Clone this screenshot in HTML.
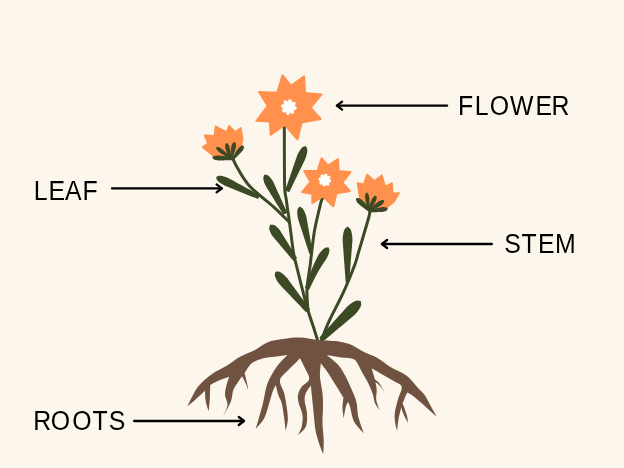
<!DOCTYPE html>
<html><head><meta charset="utf-8"><title>Parts of a plant</title>
<style>html,body{margin:0;padding:0;background:#FDF6EC}svg{display:block}</style></head>
<body>
<svg width="624" height="468" viewBox="0 0 624 468">
<rect width="624" height="468" fill="#FDF6EC"/>
<path d="M284.3 126.0C284.4 135.7 284.3 171.8 284.6 184.1C284.9 196.4 285.5 193.6 286.3 200.0C287.1 206.4 288.3 213.6 289.5 222.4C290.7 231.2 292.4 245.8 293.5 252.9C294.6 260.0 294.5 257.6 296.3 265.0C298.1 272.4 302.3 289.2 304.3 297.0C306.3 304.8 306.6 306.0 308.3 311.5C310.0 317.0 312.9 325.3 314.4 330.0C315.9 334.7 316.9 338.0 317.4 339.6" fill="none" stroke="#3B4A25" stroke-width="3.0" stroke-linecap="round" stroke-linejoin="round"/>
<path d="M232.9 158.9C233.7 160.4 234.7 163.4 237.5 168.0C240.3 172.6 243.9 179.9 250.0 186.5C256.1 193.1 267.5 201.3 274.1 207.3C280.7 213.3 286.9 219.9 289.5 222.4" fill="none" stroke="#3B4A25" stroke-width="3.0" stroke-linecap="round" stroke-linejoin="round"/>
<path d="M322.8 197.9C322.4 198.8 322.1 197.5 320.7 203.2C319.3 208.9 316.0 221.8 314.3 232.0C312.6 242.2 311.5 254.6 310.3 264.1C309.1 273.6 307.4 281.4 307.0 289.0C306.6 296.6 307.8 306.4 308.0 309.9" fill="none" stroke="#3B4A25" stroke-width="3.0" stroke-linecap="round" stroke-linejoin="round"/>
<path d="M369.8 210.8C369.6 212.0 370.5 211.0 368.6 218.0C366.7 225.0 360.7 244.9 358.4 252.7C356.1 260.5 357.2 258.4 354.7 265.0C352.2 271.6 347.8 282.8 343.5 292.2C339.2 301.6 332.8 313.2 329.1 321.1C325.5 329.0 322.9 336.5 321.6 339.6" fill="none" stroke="#3B4A25" stroke-width="3.0" stroke-linecap="round" stroke-linejoin="round"/>
<path d="M216.10 176.90L216.89 179.84L218.34 181.42L219.91 182.73L221.56 183.86L223.27 184.87L225.03 185.77L226.87 186.51L228.70 187.25L230.54 187.99L232.38 188.73L234.22 189.47L236.05 190.21L237.89 190.95L239.73 191.69L241.57 192.43L243.40 193.18L245.24 193.92L247.08 194.66L248.91 195.40L250.75 196.14L252.59 196.88L254.43 197.62L256.26 198.36L258.10 199.10L259.90 195.30L258.16 194.35L256.42 193.40L254.69 192.45L252.95 191.50L251.21 190.55L249.47 189.59L247.74 188.64L246.00 187.69L244.26 186.74L242.52 185.79L240.78 184.84L239.05 183.89L237.31 182.94L235.57 181.98L233.83 181.03L232.10 180.08L230.36 179.13L228.62 178.18L226.81 177.39L224.94 176.70L223.02 176.15L221.01 175.76L218.88 175.65L216.10 176.90Z" fill="#3B4A25"/>
<path d="M264.50 174.50L263.27 177.25L263.40 179.27L263.81 181.15L264.39 182.93L265.09 184.65L265.90 186.32L266.87 187.89L267.85 189.47L268.82 191.05L269.79 192.62L270.76 194.20L271.73 195.78L272.71 197.36L273.68 198.93L274.65 200.51L275.62 202.09L276.60 203.67L277.57 205.24L278.54 206.82L279.51 208.40L280.48 209.98L281.46 211.55L282.43 213.13L283.40 214.71L287.20 212.69L286.44 211.00L285.68 209.31L284.92 207.62L284.15 205.93L283.39 204.25L282.63 202.56L281.87 200.87L281.11 199.18L280.35 197.49L279.59 195.80L278.83 194.11L278.07 192.42L277.30 190.73L276.54 189.04L275.78 187.35L275.02 185.66L274.26 183.97L273.50 182.28L272.58 180.68L271.55 179.13L270.39 177.65L269.06 176.26L267.47 175.02L264.50 174.50Z" fill="#3B4A25"/>
<path d="M305.80 146.10L302.78 147.06L301.22 148.62L299.95 150.30L298.86 152.05L297.91 153.87L297.08 155.73L296.42 157.66L295.76 159.59L295.10 161.52L294.43 163.44L293.77 165.37L293.11 167.30L292.45 169.23L291.79 171.16L291.12 173.09L290.46 175.02L289.80 176.95L289.14 178.88L288.48 180.81L287.81 182.74L287.15 184.67L286.49 186.60L285.83 188.53L285.17 190.46L289.23 192.14L290.12 190.30L291.01 188.46L291.90 186.63L292.79 184.79L293.67 182.95L294.56 181.12L295.45 179.28L296.34 177.44L297.23 175.61L298.11 173.77L299.00 171.93L299.89 170.10L300.78 168.26L301.67 166.42L302.55 164.58L303.44 162.75L304.33 160.91L305.22 159.07L305.94 157.17L306.54 155.21L307.00 153.20L307.28 151.11L307.27 148.91L305.80 146.10Z" fill="#3B4A25"/>
<path d="M270.20 224.80L269.13 227.76L269.43 229.73L270.01 231.49L270.76 233.14L271.63 234.70L272.61 236.18L273.76 237.54L274.90 238.90L276.04 240.26L277.19 241.62L278.33 242.98L279.47 244.34L280.62 245.70L281.76 247.06L282.90 248.43L284.05 249.79L285.19 251.15L286.33 252.51L287.48 253.87L288.62 255.23L289.76 256.59L290.91 257.95L292.05 259.31L293.19 260.68L297.01 257.92L296.07 256.41L295.14 254.90L294.21 253.38L293.28 251.87L292.35 250.36L291.42 248.84L290.48 247.33L289.55 245.81L288.62 244.30L287.69 242.79L286.76 241.27L285.83 239.76L284.89 238.24L283.96 236.73L283.03 235.22L282.10 233.70L281.17 232.19L280.24 230.67L279.15 229.28L277.94 227.96L276.61 226.73L275.12 225.62L273.34 224.72L270.20 224.80Z" fill="#3B4A25"/>
<path d="M299.40 206.50L297.58 209.04L297.26 211.20L297.25 213.30L297.42 215.34L297.72 217.35L298.15 219.33L298.78 221.27L299.40 223.20L300.03 225.13L300.66 227.06L301.28 229.00L301.91 230.93L302.54 232.86L303.16 234.79L303.79 236.72L304.42 238.66L305.04 240.59L305.67 242.52L306.30 244.45L306.92 246.39L307.55 248.32L308.18 250.25L308.80 252.18L309.43 254.11L312.77 253.29L312.42 251.29L312.07 249.28L311.72 247.28L311.38 245.28L311.03 243.28L310.68 241.28L310.33 239.28L309.98 237.28L309.63 235.28L309.29 233.27L308.94 231.27L308.59 229.27L308.24 227.27L307.89 225.27L307.54 223.27L307.20 221.27L306.85 219.27L306.50 217.27L305.95 215.31L305.28 213.39L304.48 211.50L303.49 209.66L302.19 207.89L299.40 206.50Z" fill="#3B4A25"/>
<path d="M328.40 247.30L325.18 247.84L323.38 249.11L321.86 250.53L320.52 252.03L319.32 253.62L318.25 255.26L317.36 257.00L316.49 258.75L315.63 260.50L314.80 262.27L313.98 264.05L313.19 265.83L312.41 267.63L311.66 269.44L310.93 271.26L310.22 273.09L309.53 274.93L308.86 276.78L308.20 278.64L307.55 280.50L306.91 282.37L306.28 284.24L305.66 286.12L305.04 288.00L308.96 290.00L309.79 288.24L310.63 286.47L311.48 284.71L312.33 282.96L313.20 281.21L314.08 279.46L314.97 277.72L315.88 275.99L316.81 274.28L317.75 272.57L318.72 270.87L319.71 269.18L320.72 267.51L321.75 265.84L322.81 264.19L323.88 262.54L324.97 260.91L326.08 259.28L327.04 257.58L327.90 255.82L328.64 254.01L329.21 252.11L329.51 250.06L328.40 247.30Z" fill="#3B4A25"/>
<path d="M275.40 271.70L274.68 275.06L275.31 277.29L276.22 279.30L277.29 281.16L278.48 282.92L279.79 284.59L281.25 286.13L282.72 287.67L284.18 289.21L285.64 290.74L287.10 292.28L288.57 293.82L290.03 295.36L291.49 296.89L292.96 298.43L294.42 299.97L295.88 301.51L297.34 303.05L298.81 304.58L300.27 306.12L301.73 307.66L303.19 309.20L304.66 310.73L306.12 312.27L309.88 309.13L308.63 307.42L307.37 305.70L306.12 303.99L304.86 302.28L303.61 300.57L302.36 298.85L301.10 297.14L299.85 295.43L298.59 293.72L297.34 292.01L296.09 290.29L294.83 288.58L293.58 286.87L292.33 285.16L291.07 283.44L289.82 281.73L288.56 280.02L287.31 278.31L285.90 276.73L284.38 275.24L282.73 273.85L280.92 272.61L278.84 271.59L275.40 271.70Z" fill="#3B4A25"/>
<path d="M347.60 226.40L344.88 228.73L343.93 231.06L343.33 233.40L342.95 235.73L342.73 238.07L342.65 240.41L342.82 242.75L342.99 245.08L343.16 247.42L343.32 249.76L343.49 252.10L343.66 254.44L343.83 256.77L344.00 259.11L344.17 261.45L344.34 263.79L344.50 266.13L344.67 268.47L344.84 270.80L345.01 273.14L345.18 275.48L345.35 277.82L345.52 280.16L345.69 282.49L349.11 282.51L349.30 280.17L349.49 277.83L349.67 275.50L349.86 273.16L350.04 270.82L350.23 268.48L350.41 266.15L350.60 263.81L350.78 261.47L350.97 259.14L351.15 256.80L351.34 254.46L351.52 252.13L351.71 249.79L351.89 247.45L352.08 245.12L352.26 242.78L352.45 240.44L352.39 238.10L352.19 235.77L351.82 233.43L351.24 231.09L350.30 228.75L347.60 226.40Z" fill="#3B4A25"/>
<path d="M360.80 301.10L357.03 300.52L354.64 301.37L352.53 302.50L350.59 303.80L348.77 305.23L347.07 306.78L345.52 308.50L343.98 310.21L342.44 311.92L340.89 313.64L339.35 315.35L337.81 317.06L336.26 318.78L334.72 320.49L333.17 322.20L331.63 323.92L330.09 325.63L328.54 327.35L327.00 329.06L325.46 330.77L323.91 332.49L322.37 334.20L320.83 335.91L319.28 337.63L323.12 341.57L324.87 340.08L326.63 338.58L328.39 337.09L330.14 335.59L331.90 334.10L333.66 332.60L335.41 331.11L337.17 329.61L338.93 328.12L340.68 326.63L342.44 325.13L344.19 323.64L345.95 322.14L347.71 320.65L349.46 319.15L351.22 317.66L352.98 316.16L354.73 314.67L356.33 313.01L357.81 311.23L359.17 309.33L360.36 307.25L361.27 304.88L360.80 301.10Z" fill="#3B4A25"/>
<path d="M282.5 75.2L291.0 85.9L304.1 76.4L305.0 93.0L321.5 94.4L310.7 107.7L320.8 119.1L301.6 122.4L297.4 139.4L284.7 124.9L270.8 134.7L269.7 121.4L256.4 120.8L267.7 106.0L259.1 91.9L277.2 92.7Z" fill="#FF914D" stroke="#FF914D" stroke-width="2" stroke-linejoin="round"/>
<path d="M296.38 107.10L296.62 107.61L296.71 108.13L296.64 108.64L296.43 109.12L296.08 109.54L295.58 109.87L294.92 110.07L294.02 110.06L293.48 110.16L294.05 111.05L294.22 111.76L294.19 112.39L294.00 112.92L293.69 113.35L293.29 113.66L292.80 113.85L292.25 113.90L291.67 113.78L291.06 113.45L290.43 112.82L289.97 112.50L289.75 113.53L289.36 114.16L288.90 114.58L288.39 114.82L287.87 114.91L287.36 114.84L286.88 114.63L286.46 114.28L286.13 113.78L285.93 113.12L285.94 112.22L285.84 111.68L284.95 112.25L284.24 112.42L283.61 112.39L283.08 112.20L282.65 111.89L282.34 111.49L282.15 111.00L282.10 110.45L282.22 109.87L282.55 109.26L283.18 108.63L283.50 108.17L282.47 107.95L281.84 107.56L281.42 107.10L281.18 106.59L281.09 106.07L281.16 105.56L281.37 105.08L281.72 104.66L282.22 104.33L282.88 104.13L283.78 104.14L284.32 104.04L283.75 103.15L283.58 102.44L283.61 101.81L283.80 101.28L284.11 100.85L284.51 100.54L285.00 100.35L285.55 100.30L286.13 100.42L286.74 100.75L287.37 101.38L287.83 101.70L288.05 100.67L288.44 100.04L288.90 99.62L289.41 99.38L289.93 99.29L290.44 99.36L290.92 99.57L291.34 99.92L291.67 100.42L291.87 101.08L291.86 101.98L291.96 102.52L292.85 101.95L293.56 101.78L294.19 101.81L294.72 102.00L295.15 102.31L295.46 102.71L295.65 103.20L295.70 103.75L295.58 104.33L295.25 104.94L294.62 105.57L294.30 106.03L295.33 106.25L295.96 106.64Z" fill="#fff"/>
<path d="M321.5 158.2L328.0 165.4L338.0 159.1L338.8 171.0L350.6 172.1L342.4 182.5L350.0 191.1L336.4 193.5L333.4 206.5L322.7 196.4L312.2 203.3L312.2 193.8L301.9 192.1L310.4 181.7L304.1 171.0L317.4 170.8Z" fill="#FF914D" stroke="#FF914D" stroke-width="1.8" stroke-linejoin="round"/>
<path d="M331.08 180.10L331.26 180.52L331.32 180.95L331.27 181.37L331.10 181.76L330.82 182.11L330.43 182.39L329.91 182.57L329.22 182.59L328.78 182.69L329.20 183.40L329.31 183.97L329.27 184.47L329.10 184.89L328.84 185.24L328.51 185.50L328.11 185.66L327.67 185.71L327.19 185.63L326.70 185.39L326.19 184.91L325.81 184.68L325.61 185.47L325.28 185.96L324.90 186.28L324.48 186.46L324.05 186.52L323.63 186.47L323.24 186.30L322.89 186.02L322.61 185.63L322.43 185.11L322.41 184.42L322.31 183.98L321.60 184.40L321.03 184.51L320.53 184.47L320.11 184.30L319.76 184.04L319.50 183.71L319.34 183.31L319.29 182.87L319.37 182.39L319.61 181.90L320.09 181.39L320.32 181.01L319.53 180.81L319.04 180.48L318.72 180.10L318.54 179.68L318.48 179.25L318.53 178.83L318.70 178.44L318.98 178.09L319.37 177.81L319.89 177.63L320.58 177.61L321.02 177.51L320.60 176.80L320.49 176.23L320.53 175.73L320.70 175.31L320.96 174.96L321.29 174.70L321.69 174.54L322.13 174.49L322.61 174.57L323.10 174.81L323.61 175.29L323.99 175.52L324.19 174.73L324.52 174.24L324.90 173.92L325.32 173.74L325.75 173.68L326.17 173.73L326.56 173.90L326.91 174.18L327.19 174.57L327.37 175.09L327.39 175.78L327.49 176.22L328.20 175.80L328.77 175.69L329.27 175.73L329.69 175.90L330.04 176.16L330.30 176.49L330.46 176.89L330.51 177.33L330.43 177.81L330.19 178.30L329.71 178.81L329.48 179.19L330.27 179.39L330.76 179.72Z" fill="#fff"/>
<path d="M202.5 147.1L207.8 143.2L204.5 135.3L214.1 135.8L215.5 126.2L226.6 131.8L229.1 125.6L235.1 131.8L240.8 127.8L242.7 138.7L241.3 146.6L229.9 156.8L213.0 155.6Z" fill="#FF914D" stroke="#FF914D" stroke-width="1.4" stroke-linejoin="round"/>
<path d="M357.4 183.0L363.7 184.1L367.1 174.2L374.5 180.7L381.9 175.1L385.2 186.3L392.1 183.0L392.9 193.2L399.4 192.9L393.7 202.3L385.8 208.4L368.8 207.9L359.8 198.8Z" fill="#FF914D" stroke="#FF914D" stroke-width="1.4" stroke-linejoin="round"/>
<path d="M212.20 157.60L212.96 158.83L213.76 159.31L214.57 159.65L215.38 159.91L216.20 160.11L217.02 160.27L217.84 160.38L218.66 160.46L219.49 160.47L220.32 160.45L221.15 160.43L221.97 160.42L222.80 160.40L223.63 160.38L224.46 160.36L225.29 160.34L226.12 160.32L226.95 160.31L227.77 160.29L228.60 160.27L229.43 160.25L230.26 160.23L231.09 160.22L231.92 160.20L232.08 157.20L231.26 157.09L230.44 156.98L229.62 156.87L228.80 156.76L227.98 156.65L227.15 156.54L226.33 156.43L225.51 156.32L224.69 156.21L223.87 156.10L223.05 155.99L222.23 155.88L221.40 155.77L220.58 155.66L219.76 155.55L218.94 155.47L218.11 155.46L217.28 155.48L216.45 155.55L215.62 155.66L214.78 155.83L213.94 156.07L213.09 156.46L212.20 157.60Z" fill="#3B4A25"/>
<path d="M216.20 147.30L216.19 148.53L216.55 149.26L216.98 149.90L217.46 150.48L217.96 151.02L218.49 151.53L219.04 152.02L219.61 152.48L220.21 152.89L220.83 153.29L221.44 153.68L222.06 154.07L222.67 154.47L223.29 154.86L223.90 155.26L224.52 155.65L225.13 156.05L225.75 156.44L226.37 156.84L226.98 157.23L227.60 157.62L228.21 158.02L228.83 158.41L229.44 158.81L230.96 156.79L230.40 156.31L229.85 155.83L229.30 155.35L228.75 154.87L228.20 154.39L227.65 153.91L227.10 153.43L226.55 152.95L226.00 152.47L225.45 151.99L224.89 151.51L224.34 151.03L223.79 150.54L223.24 150.06L222.69 149.58L222.13 149.12L221.53 148.71L220.91 148.32L220.27 147.95L219.61 147.62L218.92 147.33L218.18 147.09L217.38 146.94L216.20 147.30Z" fill="#3B4A25"/>
<path d="M226.30 143.10L225.45 143.96L225.23 144.66L225.13 145.33L225.10 145.98L225.12 146.62L225.18 147.25L225.28 147.87L225.40 148.48L225.59 149.07L225.80 149.66L226.01 150.25L226.22 150.84L226.42 151.43L226.63 152.02L226.84 152.61L227.05 153.20L227.26 153.79L227.47 154.39L227.68 154.98L227.89 155.57L228.09 156.16L228.30 156.75L228.51 157.34L228.72 157.93L231.28 157.27L231.18 156.66L231.08 156.04L230.98 155.42L230.88 154.80L230.78 154.18L230.68 153.56L230.58 152.95L230.48 152.33L230.38 151.71L230.28 151.09L230.18 150.47L230.08 149.86L229.99 149.24L229.89 148.62L229.79 148.00L229.66 147.39L229.48 146.79L229.27 146.20L229.02 145.62L228.73 145.05L228.40 144.50L227.99 143.96L227.46 143.45L226.30 143.10Z" fill="#3B4A25"/>
<path d="M234.60 142.00L233.40 142.43L232.87 143.00L232.47 143.60L232.15 144.21L231.87 144.83L231.64 145.46L231.45 146.09L231.28 146.74L231.18 147.39L231.11 148.06L231.03 148.72L230.95 149.38L230.88 150.04L230.80 150.70L230.73 151.37L230.65 152.03L230.58 152.69L230.50 153.35L230.43 154.01L230.35 154.68L230.27 155.34L230.20 156.00L230.12 156.66L230.05 157.32L232.75 157.88L232.94 157.24L233.13 156.60L233.33 155.96L233.52 155.32L233.71 154.69L233.90 154.05L234.09 153.41L234.28 152.77L234.47 152.13L234.66 151.50L234.85 150.86L235.05 150.22L235.24 149.58L235.43 148.94L235.62 148.31L235.78 147.66L235.89 147.01L235.96 146.34L235.99 145.67L235.99 144.99L235.93 144.30L235.79 143.60L235.53 142.87L234.60 142.00Z" fill="#3B4A25"/>
<path d="M243.60 145.70L242.28 145.52L241.52 145.79L240.85 146.15L240.25 146.55L239.70 146.99L239.17 147.46L238.68 147.96L238.21 148.48L237.80 149.04L237.41 149.61L237.01 150.19L236.62 150.77L236.22 151.34L235.83 151.92L235.43 152.50L235.04 153.07L234.65 153.65L234.25 154.23L233.86 154.80L233.46 155.38L233.07 155.96L232.68 156.53L232.28 157.11L231.89 157.69L234.11 159.51L234.60 159.02L235.09 158.52L235.58 158.02L236.07 157.52L236.56 157.02L237.05 156.52L237.54 156.03L238.03 155.53L238.52 155.03L239.00 154.53L239.49 154.03L239.98 153.53L240.47 153.03L240.96 152.54L241.45 152.04L241.92 151.52L242.34 150.96L242.73 150.39L243.09 149.78L243.41 149.15L243.70 148.48L243.92 147.76L244.04 146.96L243.60 145.70Z" fill="#3B4A25"/>
<path d="M356.20 198.30L355.93 199.74L356.18 200.60L356.54 201.34L356.95 202.02L357.41 202.66L357.90 203.26L358.41 203.83L358.96 204.36L359.55 204.85L360.16 205.31L360.77 205.77L361.39 206.23L362.00 206.70L362.61 207.16L363.22 207.62L363.84 208.08L364.45 208.54L365.06 209.01L365.67 209.47L366.28 209.93L366.90 210.39L367.51 210.86L368.12 211.32L368.73 211.78L370.87 209.42L370.35 208.86L369.82 208.29L369.30 207.73L368.78 207.17L368.26 206.61L367.74 206.04L367.22 205.48L366.70 204.92L366.18 204.35L365.66 203.79L365.13 203.23L364.61 202.67L364.09 202.10L363.57 201.54L363.05 200.98L362.51 200.44L361.92 199.95L361.30 199.49L360.66 199.07L359.98 198.68L359.26 198.33L358.48 198.05L357.61 197.88L356.20 198.30Z" fill="#3B4A25"/>
<path d="M366.60 192.40L365.70 193.23L365.42 193.99L365.25 194.74L365.16 195.47L365.11 196.21L365.10 196.93L365.13 197.66L365.18 198.38L365.30 199.09L365.43 199.80L365.57 200.51L365.71 201.22L365.84 201.93L365.98 202.64L366.12 203.35L366.25 204.06L366.39 204.77L366.53 205.48L366.66 206.19L366.80 206.90L366.94 207.61L367.07 208.32L367.21 209.04L367.35 209.75L369.85 209.45L369.82 208.73L369.79 208.01L369.76 207.29L369.73 206.56L369.70 205.84L369.67 205.12L369.64 204.39L369.61 203.67L369.58 202.95L369.55 202.23L369.52 201.50L369.49 200.78L369.46 200.06L369.43 199.33L369.40 198.61L369.35 197.89L369.24 197.18L369.10 196.47L368.92 195.76L368.71 195.06L368.45 194.36L368.12 193.68L367.67 193.00L366.60 192.40Z" fill="#3B4A25"/>
<path d="M376.00 195.70L374.78 195.83L374.16 196.24L373.64 196.71L373.20 197.20L372.79 197.72L372.43 198.26L372.09 198.81L371.79 199.38L371.54 199.97L371.31 200.58L371.08 201.18L370.85 201.78L370.62 202.39L370.39 202.99L370.17 203.59L369.94 204.20L369.71 204.80L369.48 205.40L369.25 206.01L369.02 206.61L368.80 207.22L368.57 207.82L368.34 208.42L368.11 209.03L370.49 210.17L370.82 209.62L371.15 209.06L371.48 208.51L371.81 207.95L372.14 207.40L372.47 206.85L372.80 206.29L373.13 205.74L373.46 205.18L373.79 204.63L374.12 204.07L374.45 203.52L374.78 202.96L375.11 202.41L375.44 201.85L375.75 201.29L376.00 200.70L376.22 200.09L376.42 199.47L376.57 198.83L376.68 198.17L376.73 197.48L376.66 196.73L376.00 195.70Z" fill="#3B4A25"/>
<path d="M384.10 200.50L382.89 200.00L382.07 200.08L381.32 200.25L380.62 200.50L379.94 200.78L379.29 201.10L378.66 201.45L378.04 201.83L377.47 202.26L376.90 202.72L376.34 203.17L375.78 203.62L375.22 204.08L374.65 204.53L374.09 204.98L373.53 205.43L372.96 205.89L372.40 206.34L371.84 206.79L371.28 207.25L370.71 207.70L370.15 208.15L369.59 208.60L369.03 209.06L370.57 211.34L371.20 210.99L371.83 210.63L372.46 210.28L373.09 209.92L373.72 209.57L374.35 209.21L374.98 208.85L375.61 208.50L376.24 208.14L376.86 207.79L377.49 207.43L378.12 207.08L378.75 206.72L379.38 206.37L380.01 206.01L380.62 205.63L381.20 205.21L381.76 204.75L382.30 204.26L382.82 203.74L383.30 203.17L383.74 202.54L384.12 201.80L384.10 200.50Z" fill="#3B4A25"/>
<path d="M387.90 208.80L387.02 207.76L386.22 207.44L385.44 207.25L384.67 207.14L383.90 207.08L383.14 207.07L382.39 207.09L381.64 207.15L380.90 207.28L380.16 207.43L379.42 207.59L378.68 207.74L377.95 207.89L377.21 208.04L376.47 208.20L375.73 208.35L374.99 208.50L374.25 208.65L373.52 208.81L372.78 208.96L372.04 209.11L371.30 209.27L370.56 209.42L369.82 209.57L370.18 212.43L370.93 212.40L371.68 212.37L372.44 212.34L373.19 212.31L373.94 212.28L374.70 212.25L375.45 212.22L376.20 212.18L376.96 212.15L377.71 212.12L378.46 212.09L379.22 212.06L379.97 212.03L380.72 212.00L381.48 211.97L382.23 211.91L382.97 211.79L383.71 211.63L384.44 211.44L385.17 211.20L385.89 210.90L386.60 210.53L387.29 210.02L387.90 208.80Z" fill="#3B4A25"/>
<path d="M187.3 406.4C188.6 405.3 192.1 402.6 195.0 400.0C197.9 397.4 203.3 392.3 205.0 390.8C205.1 392.6 205.2 398.3 205.8 401.7C206.4 405.1 208.2 409.6 208.7 411.2C208.9 409.1 209.6 402.7 209.8 398.3C210.1 393.9 210.1 387.2 210.2 385.0C211.5 384.3 215.1 382.2 218.3 380.8C221.5 379.4 227.4 377.4 229.2 376.7C228.8 378.1 227.2 381.9 226.5 385.0C225.8 388.1 224.8 391.7 225.0 395.0C225.2 398.3 227.8 401.4 227.5 405.0C227.2 408.6 223.8 414.8 223.0 416.7C224.3 414.2 229.1 406.1 230.8 401.7C232.5 397.2 232.1 393.3 233.3 390.0C234.6 386.7 236.9 384.0 238.3 381.7C239.8 379.4 241.4 377.2 242.0 376.3C242.6 377.4 244.4 380.6 245.5 383.0C246.6 385.4 247.8 389.2 248.3 390.5C248.1 389.2 247.6 385.9 247.0 383.0C246.4 380.1 245.0 374.9 244.6 373.3C245.8 371.6 248.6 365.8 251.7 363.3C254.8 360.8 259.4 359.4 263.3 358.3C267.2 357.2 271.0 357.2 275.0 356.7C279.0 356.1 285.4 355.3 287.5 355.0C285.7 356.9 280.0 362.0 276.7 366.7C273.4 371.4 269.7 377.5 267.5 383.3C265.3 389.1 264.8 395.6 263.3 401.7C261.8 407.8 259.6 415.4 258.3 420.0C257.0 424.6 256.0 427.7 255.5 429.2C256.9 427.4 261.9 422.6 264.2 418.3C266.5 414.0 267.8 407.7 269.2 403.3C270.6 398.9 271.4 395.1 272.5 392.0C273.6 388.9 275.2 386.2 275.8 385.0C276.2 386.7 277.3 391.9 278.3 395.0C279.3 398.1 280.7 399.4 281.7 403.3C282.7 407.2 283.5 413.7 284.2 418.3C284.9 422.9 285.4 428.7 285.6 430.8C286.0 429.0 287.6 424.0 287.8 420.0C288.0 416.0 287.3 411.1 286.7 406.7C286.1 402.2 285.3 397.8 284.2 393.3C283.1 388.9 279.3 383.9 280.0 380.0C280.7 376.1 285.5 373.1 288.3 370.0C291.1 366.9 294.8 363.6 296.7 361.7C298.6 359.8 299.4 358.9 300.0 358.3C300.8 360.0 303.5 364.8 305.0 368.3C306.5 371.8 309.8 376.1 309.2 379.2C308.6 382.3 303.6 384.1 301.7 386.7C299.8 389.3 298.5 392.3 298.0 395.0C297.5 397.7 297.9 399.7 298.7 403.0C299.4 406.3 302.0 411.1 302.5 415.0C303.0 418.9 302.4 423.4 301.7 426.7C300.9 430.0 298.6 433.6 298.0 435.0C299.3 433.6 304.3 430.3 305.8 426.7C307.3 423.1 307.2 417.6 307.0 413.3C306.8 409.0 304.9 404.3 304.7 401.0C304.5 397.7 304.8 395.9 305.8 393.3C306.8 390.7 310.0 386.8 310.8 385.5C311.1 388.2 312.1 397.6 312.5 401.7C312.9 405.8 312.8 405.0 313.3 410.0C313.9 415.0 314.6 425.3 315.8 431.7C317.1 438.1 319.6 444.6 320.8 448.3C322.1 452.1 322.9 453.2 323.3 454.2C323.4 451.8 323.8 445.1 323.7 440.0C323.6 434.9 322.6 428.9 322.5 423.3C322.4 417.8 323.0 411.7 323.0 406.7C323.0 401.7 323.0 398.3 322.5 393.3C322.0 388.3 320.3 381.7 320.0 376.7C319.7 371.7 320.7 365.5 320.8 363.3C322.1 365.0 325.7 369.4 328.3 373.3C330.9 377.2 334.2 382.7 336.7 386.7C339.2 390.7 342.4 395.7 343.5 397.5C343.3 399.2 342.5 404.0 342.5 407.5C342.5 411.0 343.5 416.5 343.7 418.3C344.1 416.4 345.1 409.4 345.8 406.7C346.5 404.0 347.6 402.8 348.0 402.0C348.3 402.8 349.0 403.4 350.0 406.7C351.0 410.0 351.9 417.3 354.2 421.7C356.5 426.1 362.2 431.4 363.8 433.3C362.9 430.5 359.5 421.7 358.3 416.7C357.1 411.7 357.5 407.2 356.7 403.3C355.9 399.4 355.1 397.7 353.3 393.3C351.5 388.9 348.3 381.4 345.8 376.7C343.3 372.0 341.5 368.6 338.3 365.0C335.1 361.4 328.6 356.7 326.7 355.0C329.2 355.4 337.8 356.9 341.7 357.5C345.6 358.1 347.6 357.8 350.0 358.3C352.4 358.9 353.9 358.6 355.8 360.8C357.8 363.0 359.8 368.2 361.7 371.7C363.6 375.2 365.7 378.1 367.5 381.7C369.3 385.3 371.2 389.7 372.5 393.3C373.8 396.9 373.8 400.5 375.0 403.3C376.2 406.1 378.8 409.1 379.5 410.3C379.0 408.6 376.8 403.4 376.3 400.0C375.8 396.6 376.8 393.0 376.7 390.0C376.6 387.0 375.7 383.3 375.5 382.0C376.2 382.7 378.5 384.2 380.0 386.0C381.5 387.8 383.9 391.4 384.7 392.5C383.8 391.0 381.1 385.7 379.5 383.5C377.9 381.3 375.8 380.2 375.0 379.5C374.4 377.6 372.2 370.2 371.7 368.3C373.4 369.3 378.1 372.1 381.7 374.2C385.3 376.3 390.0 378.7 393.3 380.8C396.6 382.9 400.9 383.8 401.7 386.7C402.5 389.6 399.4 394.1 398.3 398.3C397.2 402.5 395.6 407.8 395.0 411.7C394.4 415.6 394.6 418.5 395.0 421.7C395.4 424.9 396.8 429.3 397.2 430.8C397.4 428.7 398.0 422.2 398.7 418.3C399.4 414.4 400.8 409.3 401.2 407.5C401.5 408.5 402.5 411.7 403.2 413.5C403.9 415.3 404.8 416.9 405.6 418.5C406.4 420.1 407.6 422.1 408.0 422.8C407.8 421.7 407.6 418.4 407.0 416.0C406.4 413.6 405.3 410.6 404.6 408.5C403.9 406.4 402.9 404.4 402.6 403.6C403.1 402.2 405.0 397.4 405.8 395.5C406.6 393.6 407.2 393.0 407.5 392.5C408.3 393.0 410.8 394.2 412.5 395.4C414.2 396.6 415.8 398.4 417.5 399.8C419.2 401.2 420.5 402.1 422.6 404.0C424.7 405.9 427.8 408.9 430.2 411.0C432.6 413.1 435.7 415.8 436.8 416.8C435.7 414.8 432.2 408.6 430.2 405.0C428.2 401.4 426.6 397.8 424.6 395.0C422.6 392.2 421.3 391.5 418.3 388.3C415.3 385.1 411.4 379.4 406.7 375.8C402.0 372.2 395.0 369.8 390.0 366.7C385.0 363.6 380.9 359.9 376.7 357.5C372.5 355.1 369.2 354.6 365.0 352.5C360.8 350.4 355.9 346.8 351.7 345.0C347.5 343.2 343.6 342.4 340.0 341.7C336.4 341.0 333.9 341.1 330.0 340.8C326.1 340.5 321.7 340.2 316.7 339.7C311.7 339.1 305.3 337.7 300.0 337.5C294.7 337.3 290.3 337.9 285.0 338.7C279.7 339.4 273.3 340.1 268.3 342.0C263.3 343.9 259.7 347.6 255.0 350.0C250.3 352.4 244.7 354.1 240.0 356.7C235.3 359.3 231.4 362.9 226.7 365.8C222.0 368.7 216.5 370.7 211.7 374.2C206.9 377.7 201.9 381.6 197.8 387.0C193.7 392.4 189.1 403.2 187.3 406.4Z" fill="#6F5340"/>
<path d="M336.9 105.6 H447.2" stroke="#000" stroke-width="2.3" fill="none" stroke-linecap="round"/><path d="M342.1 101.6 L336.9 105.6 L342.1 109.6" stroke="#000" stroke-width="2.3" fill="none" stroke-linecap="round" stroke-linejoin="round"/>
<path d="M112.0 188.4 H221.8" stroke="#000" stroke-width="2.3" fill="none" stroke-linecap="round"/><path d="M216.6 184.4 L221.8 188.4 L216.6 192.4" stroke="#000" stroke-width="2.3" fill="none" stroke-linecap="round" stroke-linejoin="round"/>
<path d="M381.9 244.0 H491.8" stroke="#000" stroke-width="2.3" fill="none" stroke-linecap="round"/><path d="M387.1 240.0 L381.9 244.0 L387.1 248.0" stroke="#000" stroke-width="2.3" fill="none" stroke-linecap="round" stroke-linejoin="round"/>
<path d="M134.1 421.0 H244.0" stroke="#000" stroke-width="2.3" fill="none" stroke-linecap="round"/><path d="M238.8 417.0 L244.0 421.0 L238.8 425.0" stroke="#000" stroke-width="2.3" fill="none" stroke-linecap="round" stroke-linejoin="round"/>
<g style="isolation:isolate;will-change:transform">
<text transform="translate(0 114.7) scale(0.92 1)" x="497.80 515.96 532.31 554.42 582.00 599.39" y="0" font-family="'Liberation Sans', sans-serif" font-size="27.0" fill="#000">FLOWER</text>
<text transform="translate(0 199.6) scale(0.92 1)" x="36.56 52.77 70.57 89.59" y="0" font-family="'Liberation Sans', sans-serif" font-size="27.0" fill="#000">LEAF</text>
<text transform="translate(0 252.5) scale(0.92 1)" x="548.09 566.91 584.83 603.36" y="0" font-family="'Liberation Sans', sans-serif" font-size="27.0" fill="#000">STEM</text>
<text transform="translate(0 430.2) scale(0.92 1)" x="36.23 55.30 78.50 100.50 118.09" y="0" font-family="'Liberation Sans', sans-serif" font-size="27.0" fill="#000">ROOTS</text>
</g>
</svg>
</body></html>
